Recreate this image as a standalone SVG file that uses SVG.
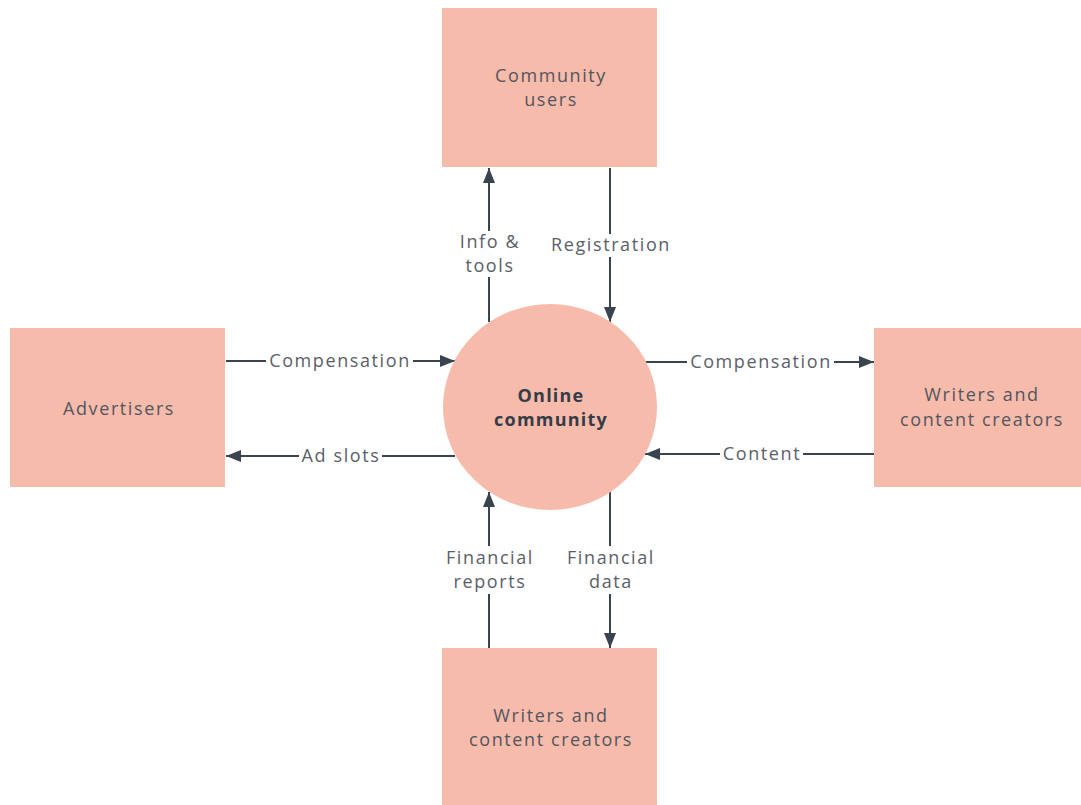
<svg xmlns="http://www.w3.org/2000/svg" width="1081" height="805" viewBox="0 0 1081 805">
  <defs>
    <marker id="arrow" viewBox="0 0 15 12" refX="15" refY="6" markerWidth="15" markerHeight="12" markerUnits="userSpaceOnUse" orient="auto">
      <path d="M0,0 L15,6 L0,12 Z" fill="#3a4450"/>
    </marker>
    <style>
      .box { fill: #f7bbab; }
      .node-text { font-family: "Open Sans", Lato, sans-serif; font-size: 18px; letter-spacing: 1.6px; fill: #52565e; text-anchor: middle; }
      .title { font-family: "Open Sans", Lato, sans-serif; font-size: 18px; letter-spacing: 1.2px; font-weight: bold; fill: #343c47; text-anchor: middle; }
      .flow { stroke: #3a4450; stroke-width: 2; fill: none; }
      .label-bg { fill: #ffffff; }
      .label { font-family: "Open Sans", Lato, sans-serif; font-size: 18px; letter-spacing: 1.6px; fill: #5b6068; text-anchor: middle; }
    </style>
  </defs>
  <rect width="1081" height="805" fill="#ffffff"/>

  <g id="connectors">
    <!-- vertical flows: top -->
    <line class="flow" x1="489" y1="322" x2="489" y2="168" marker-end="url(#arrow)"/>
    <line class="flow" x1="610" y1="168" x2="610" y2="322" marker-end="url(#arrow)"/>
    <!-- horizontal flows: left -->
    <line class="flow" x1="226" y1="361" x2="455" y2="361" marker-end="url(#arrow)"/>
    <line class="flow" x1="455" y1="456" x2="226" y2="456" marker-end="url(#arrow)"/>
    <!-- horizontal flows: right -->
    <line class="flow" x1="645" y1="362" x2="874" y2="362" marker-end="url(#arrow)"/>
    <line class="flow" x1="874" y1="454" x2="645" y2="454" marker-end="url(#arrow)"/>
    <!-- vertical flows: bottom -->
    <line class="flow" x1="489" y1="648" x2="489" y2="492" marker-end="url(#arrow)"/>
    <line class="flow" x1="610" y1="492" x2="610" y2="648" marker-end="url(#arrow)"/>

    <!-- labels -->
    <rect class="label-bg" x="456" y="231" width="66" height="46"/>
    <text class="label" x="490" y="248">Info &amp;</text>
    <text class="label" x="490" y="272">tools</text>

    <rect class="label-bg" x="548" y="234" width="126" height="23"/>
    <text class="label" x="611" y="251">Registration</text>

    <rect class="label-bg" x="266" y="350" width="147" height="23"/>
    <text class="label" x="340" y="367">Compensation</text>

    <rect class="label-bg" x="299" y="445" width="83" height="23"/>
    <text class="label" x="341" y="462">Ad slots</text>

    <rect class="label-bg" x="687" y="351" width="147" height="23"/>
    <text class="label" x="761" y="368">Compensation</text>

    <rect class="label-bg" x="720" y="443" width="83" height="23"/>
    <text class="label" x="762" y="460">Content</text>

    <rect class="label-bg" x="440" y="546" width="98" height="48"/>
    <text class="label" x="490" y="564">Financial</text>
    <text class="label" x="490" y="588">reports</text>

    <rect class="label-bg" x="561" y="546" width="98" height="48"/>
    <text class="label" x="611" y="564">Financial</text>
    <text class="label" x="611" y="588">data</text>
  </g>

  <g id="community-users">
    <rect class="box" x="442" y="8" width="215" height="159"/>
    <text class="node-text" x="551" y="82">Community</text>
    <text class="node-text" x="551" y="106">users</text>
  </g>

  <g id="advertisers">
    <rect class="box" x="10" y="328" width="215" height="159"/>
    <text class="node-text" x="119" y="415">Advertisers</text>
  </g>

  <g id="writers-right">
    <rect class="box" x="874" y="328" width="207" height="159"/>
    <text class="node-text" x="982" y="401">Writers and</text>
    <text class="node-text" x="982" y="426">content creators</text>
  </g>

  <g id="writers-bottom">
    <rect class="box" x="442" y="648" width="215" height="157"/>
    <text class="node-text" x="551" y="722">Writers and</text>
    <text class="node-text" x="551" y="746">content creators</text>
  </g>

  <g id="online-community">
    <ellipse class="box" cx="550" cy="407" rx="107" ry="103"/>
    <text class="title" x="551" y="402">Online</text>
    <text class="title" x="551" y="426">community</text>
  </g>
</svg>
